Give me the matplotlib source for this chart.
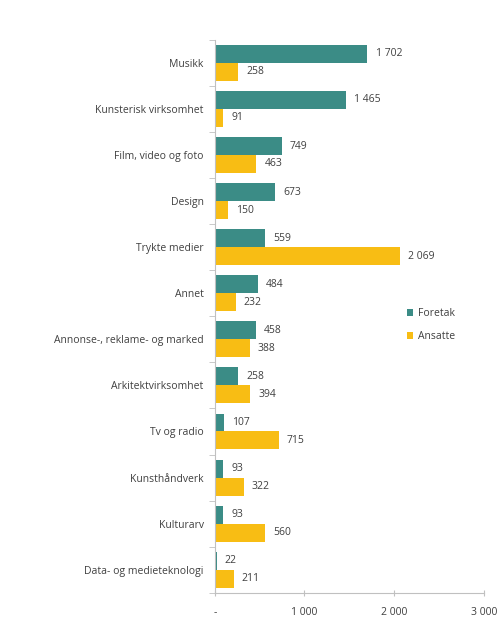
import numpy as np
import matplotlib.pyplot as plt

categories = ['Musikk', 'Kunsterisk virksomhet', 'Film, video og foto', 'Design',
              'Trykte medier', 'Annet', 'Annonse-, reklame- og marked',
              'Arkitektvirksomhet', 'Tv og radio', 'Kunsthåndverk', 'Kulturarv',
              'Data- og medieteknologi']
foretak = [1702, 1465, 749, 673, 559, 484, 458, 258, 107, 93, 93, 22]
ansatte = [258, 91, 463, 150, 2069, 232, 388, 394, 715, 322, 560, 211]
xticks = [0, 1000, 2000, 3000]
xticklabels = ['-', '1 000', '2 000', '3 000']

teal = '#3b8c86'
yellow = '#f8bd14'
txt = '#404040'

plt.rcParams['font.family'] = ['Open Sans', 'DejaVu Sans']

fig = plt.figure(figsize=(5.03, 6.22), dpi=100)
ax = fig.add_axes([0.427, 0.047, 0.535, 0.889])

n = len(categories)
y = np.arange(n)
h = 0.39
ax.barh(y - h / 2, foretak, height=h, color=teal, label='Foretak')
ax.barh(y + h / 2, ansatte, height=h, color=yellow, label='Ansatte')

def fmt(v):
    return f'{v:,}'.replace(',', ' ')

for i in range(n):
    ax.text(foretak[i] + 90, y[i] - h / 2, fmt(foretak[i]), va='center', ha='left',
            fontsize=7.5, color=txt)
    ax.text(ansatte[i] + 90, y[i] + h / 2, fmt(ansatte[i]), va='center', ha='left',
            fontsize=7.5, color=txt)

ax.set_ylim(n - 0.5, -0.5)
ax.set_xlim(0, 3000)
ax.set_yticks(y)
ax.set_yticklabels(categories, fontsize=7.5, color=txt)
ax.set_yticks(np.arange(n + 1) - 0.5, minor=True)
ax.tick_params(axis='y', which='major', length=0, pad=8)
ax.tick_params(axis='y', which='minor', length=4, color='#c0c0c0')

ax.set_xticks(xticks)
ax.set_xticklabels(xticklabels, fontsize=7.5, color=txt)
ax.tick_params(axis='x', length=4, color='#c0c0c0', direction='inout', pad=8)

for s in ['top', 'right']:
    ax.spines[s].set_visible(False)
ax.spines['left'].set_color('#c0c0c0')
ax.spines['bottom'].set_color('#c0c0c0')

ax.legend(loc='upper left', bbox_to_anchor=(0.68, 0.532), frameon=False,
          fontsize=7.5, handlelength=0.6, handleheight=0.6, labelspacing=1.2,
          handletextpad=0.4, labelcolor=txt)

fig.savefig('out.png', dpi=100)
